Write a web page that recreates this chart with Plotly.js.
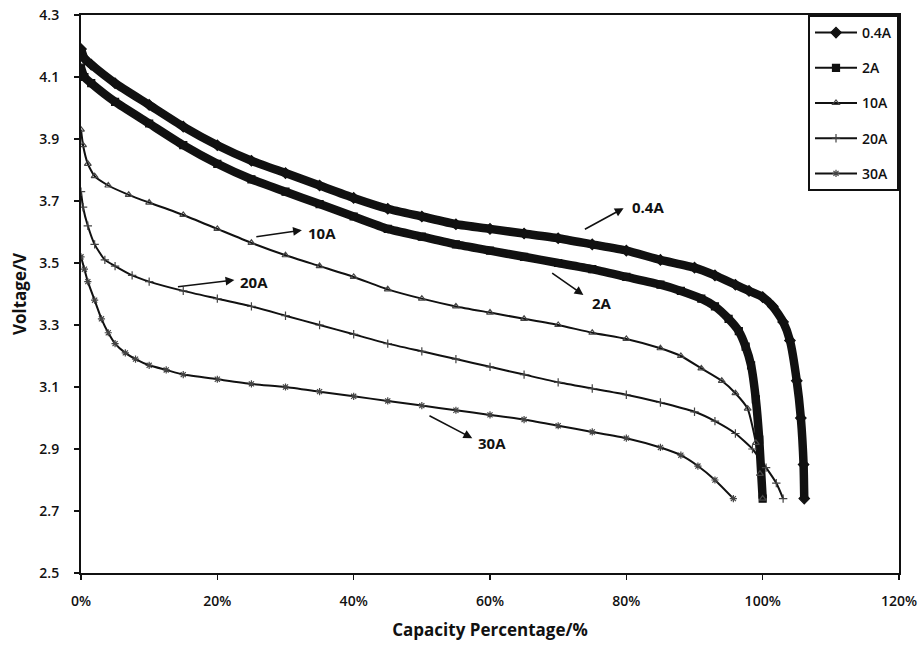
<!DOCTYPE html>
<html>
<head>
<meta charset="utf-8">
<script src="https://cdn.plot.ly/plotly-3.0.1.min.js"></script>
<style>html,body{margin:0;padding:0;background:#fff;}#chart{width:923px;height:645px;}</style>
</head>
<body>
<div id="chart"></div>
<script>
// ---- data (capacity %, voltage V) ----
const seriesNames = ["0.4A", "2A", "10A", "20A", "30A"];

const x04 = [0, 0.5, 1.5, 5, 10, 15, 20, 25, 30, 35, 40, 45, 50, 55, 60, 65, 70, 75, 80, 85, 90, 93, 96, 98, 100, 101.5, 103, 104, 105, 105.6, 106, 106.1];
const v04 = [4.19, 4.16, 4.14, 4.08, 4.01, 3.94, 3.88, 3.83, 3.79, 3.75, 3.71, 3.675, 3.65, 3.625, 3.61, 3.595, 3.58, 3.56, 3.54, 3.51, 3.485, 3.46, 3.43, 3.41, 3.39, 3.36, 3.31, 3.25, 3.12, 3.00, 2.85, 2.74];

const x2 = [0, 0.5, 1.5, 5, 10, 15, 20, 25, 30, 35, 40, 45, 50, 55, 60, 65, 70, 75, 80, 85, 88, 91, 93, 95, 96.5, 97.5, 98.3, 99, 99.5, 100];
const v2 = [4.13, 4.10, 4.08, 4.02, 3.95, 3.88, 3.82, 3.77, 3.73, 3.69, 3.65, 3.61, 3.585, 3.56, 3.54, 3.52, 3.50, 3.48, 3.455, 3.43, 3.41, 3.385, 3.36, 3.32, 3.28, 3.23, 3.17, 3.06, 2.93, 2.74];

const x10 = [0, 0.3, 1, 2, 4, 7, 10, 15, 20, 25, 30, 35, 40, 45, 50, 55, 60, 65, 70, 75, 80, 85, 88, 91, 94, 96, 97.8, 99, 99.6, 100];
const v10 = [3.93, 3.88, 3.82, 3.78, 3.75, 3.72, 3.695, 3.655, 3.61, 3.565, 3.525, 3.49, 3.455, 3.415, 3.385, 3.36, 3.34, 3.32, 3.30, 3.275, 3.255, 3.225, 3.20, 3.16, 3.12, 3.08, 3.03, 2.92, 2.82, 2.74];

const x20 = [0, 0.3, 1, 2, 3.5, 5, 7.5, 10, 15, 20, 25, 30, 35, 40, 45, 50, 55, 60, 65, 70, 75, 80, 85, 90, 93, 96, 98.5, 100.5, 102, 103];
const v20 = [3.73, 3.68, 3.62, 3.56, 3.51, 3.49, 3.46, 3.44, 3.41, 3.385, 3.36, 3.33, 3.30, 3.27, 3.24, 3.215, 3.19, 3.165, 3.14, 3.115, 3.095, 3.075, 3.05, 3.02, 2.99, 2.95, 2.90, 2.84, 2.79, 2.74];

const x30 = [0, 0.5, 1, 2, 3, 4, 5, 6.5, 8, 10, 12.5, 15, 20, 25, 30, 35, 40, 45, 50, 55, 60, 65, 70, 75, 80, 85, 88, 90.5, 93, 95.7];
const v30 = [3.52, 3.48, 3.44, 3.38, 3.32, 3.275, 3.24, 3.21, 3.19, 3.17, 3.155, 3.14, 3.125, 3.11, 3.10, 3.085, 3.07, 3.055, 3.04, 3.025, 3.01, 2.995, 2.975, 2.955, 2.935, 2.905, 2.88, 2.845, 2.80, 2.74];

const xTickVals = [0, 20, 40, 60, 80, 100, 120];
const xTickText = ["0%", "20%", "40%", "60%", "80%", "100%", "120%"];
const yTickVals = [2.5, 2.7, 2.9, 3.1, 3.3, 3.5, 3.7, 3.9, 4.1, 4.3];
const yTickText = ["2.5", "2.7", "2.9", "3.1", "3.3", "3.5", "3.7", "3.9", "4.1", "4.3"];

// ---- styling ----
const FONT = "'Open Sans', Lato, 'DejaVu Sans', sans-serif";
const ink = "#111";

function thick(x, y, group) {
  return {x: x, y: y, type: "scatter", mode: "lines", showlegend: false, legendgroup: group,
          hoverinfo: "skip",
          line: {color: ink, width: 8.5, shape: "spline", smoothing: 0.5}};
}
function series(x, y, name, group, symbol, msize, lwidth, mcolor) {
  return {x: x, y: y, type: "scatter", mode: "lines+markers", name: name, legendgroup: group,
          line: {color: ink, width: lwidth, shape: "spline", smoothing: 0.5},
          marker: {symbol: symbol, size: msize, color: mcolor,
                   line: {color: mcolor, width: 1.2}}};
}

const traces = [
  thick(x04, v04, "g1"),
  thick(x2, v2, "g2"),
  series(x04, v04, seriesNames[0], "g1", "diamond", 8, 2, ink),
  series(x2, v2, seriesNames[1], "g2", "square", 7, 2, ink),
  series(x10, v10, seriesNames[2], "g3", "triangle-up-open", 6, 2, "#444"),
  series(x20, v20, seriesNames[3], "g4", "cross-thin-open", 6, 2, "#444"),
  series(x30, v30, seriesNames[4], "g5", "asterisk-open", 6, 2, "#444")
];

function arrow(tx, ty, hx, hy) {
  return {x: hx, y: hy, ax: tx, ay: ty, xref: "x", yref: "y", axref: "x", ayref: "y",
          text: "", showarrow: true, arrowhead: 2, arrowsize: 1.1, arrowwidth: 1.6,
          arrowcolor: ink, standoff: 0, startstandoff: 0};
}
function label(txt, x, y) {
  return {x: x, y: y, xref: "x", yref: "y", text: txt, showarrow: false,
          xanchor: "left", yanchor: "middle",
          font: {family: FONT, size: 15, color: ink, weight: "bold"}};
}

const layout = {
  width: 923, height: 645,
  margin: {l: 81, r: 24, t: 15, b: 72},
  paper_bgcolor: "#fff", plot_bgcolor: "#fff",
  font: {family: FONT, color: ink},
  showlegend: true,
  xaxis: {
    range: [0, 120], tickmode: "array", tickvals: xTickVals, ticktext: xTickText,
    showline: true, mirror: true, linecolor: ink, linewidth: 2,
    ticks: "outside", ticklen: 5, tickwidth: 1.5, tickcolor: ink,
    showgrid: false, zeroline: false, ticklabelstandoff: 9,
    tickfont: {family: FONT, size: 14, color: ink, weight: 600},
    title: {text: "Capacity Percentage/%", standoff: 15,
            font: {family: FONT, size: 17, color: ink, weight: "bold"}}
  },
  yaxis: {
    range: [2.5, 4.3], tickmode: "array", tickvals: yTickVals, ticktext: yTickText,
    showline: true, mirror: true, linecolor: ink, linewidth: 2,
    ticks: "outside", ticklen: 5, tickwidth: 1.5, tickcolor: ink,
    showgrid: false, zeroline: false, ticklabelstandoff: 12,
    tickfont: {family: FONT, size: 14, color: ink, weight: 600},
    title: {text: "Voltage/V", standoff: 8,
            font: {family: FONT, size: 17, color: ink, weight: "bold"}}
  },
  legend: {
    x: 1, xanchor: "right", y: 1, yanchor: "top",
    bgcolor: "#fff", bordercolor: ink, borderwidth: 2,
    font: {family: FONT, size: 14, color: ink, weight: 600},
    traceorder: "grouped", tracegroupgap: 14, itemwidth: 42
  },
  annotations: [
    arrow(73.7, 3.606, 79.6, 3.677), label(seriesNames[0], 80.6, 3.68),
    arrow(68.9, 3.471, 73.7, 3.397), label(seriesNames[1], 74.6, 3.371),
    arrow(25.5, 3.584, 32.4, 3.606), label(seriesNames[2], 33.0, 3.597),
    arrow(14.0, 3.423, 22.5, 3.445), label(seriesNames[3], 23.1, 3.439),
    arrow(50.9, 3.010, 57.4, 2.935), label(seriesNames[4], 57.9, 2.919)
  ]
};

Plotly.newPlot("chart", traces, layout, {displayModeBar: false, staticPlot: true});
</script>
</body>
</html>
